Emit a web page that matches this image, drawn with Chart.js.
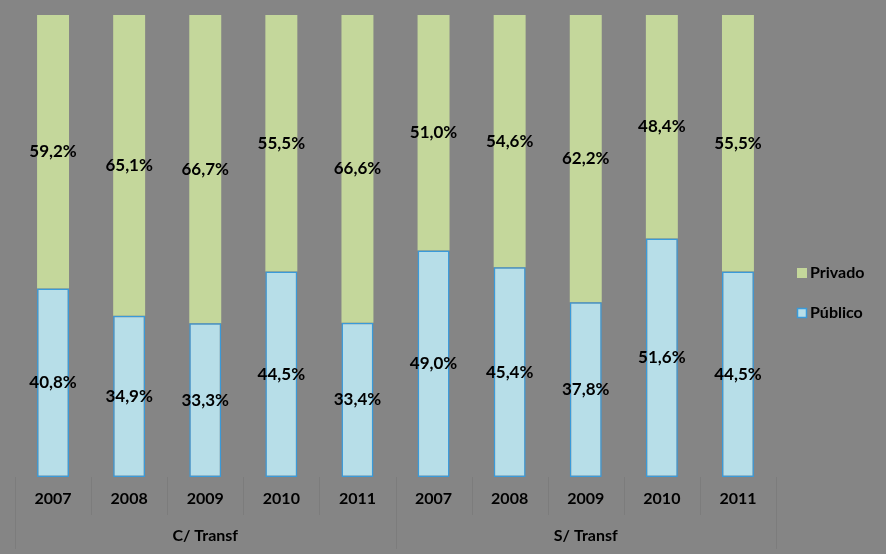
<!DOCTYPE html>
<html>
<head>
<meta charset="utf-8">
<script src="https://cdn.jsdelivr.net/npm/chart.js@4"></script>
<style>
  html, body { margin: 0; padding: 0; background: #858585; }
  #wrap { width: 886px; height: 554px; }
</style>
</head>
<body>
<div id="wrap"><canvas id="c" width="886" height="554"></canvas></div>
<script>
const years = ['2007', '2008', '2009', '2010', '2011', '2007', '2008', '2009', '2010', '2011'];
const groups = ['C/ Transf', 'S/ Transf'];
const groupSize = 5;
const publico = [40.8, 34.9, 33.3, 44.5, 33.4, 49.0, 45.4, 37.8, 51.6, 44.5];
const privado = [59.2, 65.1, 66.7, 55.5, 66.6, 51.0, 54.6, 62.2, 48.4, 55.5];

const fmt = v => v.toFixed(1).replace('.', ',') + '%';
const FONT = 'Lato, "Open Sans", sans-serif';

const overlay = {
  id: 'overlay',
  afterDatasetsDraw(chart) {
    const ctx = chart.ctx;
    const x = chart.scales.x;
    const area = chart.chartArea;
    // data labels
    ctx.save();
    ctx.fillStyle = '#000';
    ctx.font = 'bold 17px ' + FONT;
    ctx.textAlign = 'center';
    ctx.textBaseline = 'middle';
    chart.data.datasets.forEach((ds, di) => {
      const meta = chart.getDatasetMeta(di);
      meta.data.forEach((bar, i) => {
        const yc = (bar.y + bar.base) / 2;
        ctx.fillText(fmt(ds.data[i]), bar.x, yc);
      });
    });
    ctx.restore();

    // category table
    const n = years.length;
    const step = x.getPixelForValue(1) - x.getPixelForValue(0);
    const bottom = area.bottom;
    ctx.save();
    ctx.strokeStyle = '#7c7c7c';
    ctx.lineWidth = 1;
    for (let i = 0; i <= n; i++) {
      const px = Math.round(x.getPixelForValue(i) - step / 2) + 0.5;
      const isGroup = i % groupSize === 0;
      ctx.beginPath();
      ctx.moveTo(px, bottom);
      ctx.lineTo(px, isGroup ? bottom + 72 : bottom + 38);
      ctx.stroke();
    }
    ctx.fillStyle = '#000';
    ctx.font = 'bold 16px ' + FONT;
    ctx.textAlign = 'center';
    ctx.textBaseline = 'middle';
    years.forEach((y, i) => ctx.fillText(y, x.getPixelForValue(i), bottom + 22));
    groups.forEach((g, gi) => {
      const a = x.getPixelForValue(gi * groupSize);
      const b = x.getPixelForValue(gi * groupSize + groupSize - 1);
      ctx.fillText(g, (a + b) / 2, bottom + 59);
    });
    ctx.restore();

    // legend
    ctx.save();
    const lx = area.right + 21;
    const items = [chart.data.datasets[1], chart.data.datasets[0]];
    items.forEach((ds, k) => {
      const cy = 273 + k * 40;
      ctx.fillStyle = ds.backgroundColor;
      ctx.fillRect(lx, cy - 5, 10, 10);
      if (ds.borderWidth) {
        ctx.strokeStyle = ds.borderColor;
        ctx.lineWidth = 1.5;
        ctx.strokeRect(lx + 0.5, cy - 4.5, 9, 9);
      }
      ctx.fillStyle = '#000';
      ctx.font = 'bold 16px ' + FONT;
      ctx.textAlign = 'left';
      ctx.textBaseline = 'middle';
      ctx.fillText(ds.label, lx + 13, cy);
    });
    ctx.restore();
  }
};

new Chart(document.getElementById('c'), {
  type: 'bar',
  data: {
    labels: years,
    datasets: [
      {
        label: 'Público',
        data: publico,
        backgroundColor: '#b7dee8',
        borderColor: '#3a9ad9',
        borderWidth: 1.5,
        borderSkipped: false
      },
      {
        label: 'Privado',
        data: privado,
        backgroundColor: '#c4d79b',
        borderWidth: 0
      }
    ]
  },
  options: {
    responsive: false,
    animation: false,
    events: [],
    layout: { padding: { left: 15, right: 110, top: 15, bottom: 77 } },
    datasets: { bar: { barPercentage: 0.42, categoryPercentage: 1.0 } },
    scales: {
      x: { stacked: true, display: false },
      y: { stacked: true, display: false, min: 0, max: 100 }
    },
    plugins: { legend: { display: false }, tooltip: { enabled: false } }
  },
  plugins: [overlay]
});
</script>
</body>
</html>
